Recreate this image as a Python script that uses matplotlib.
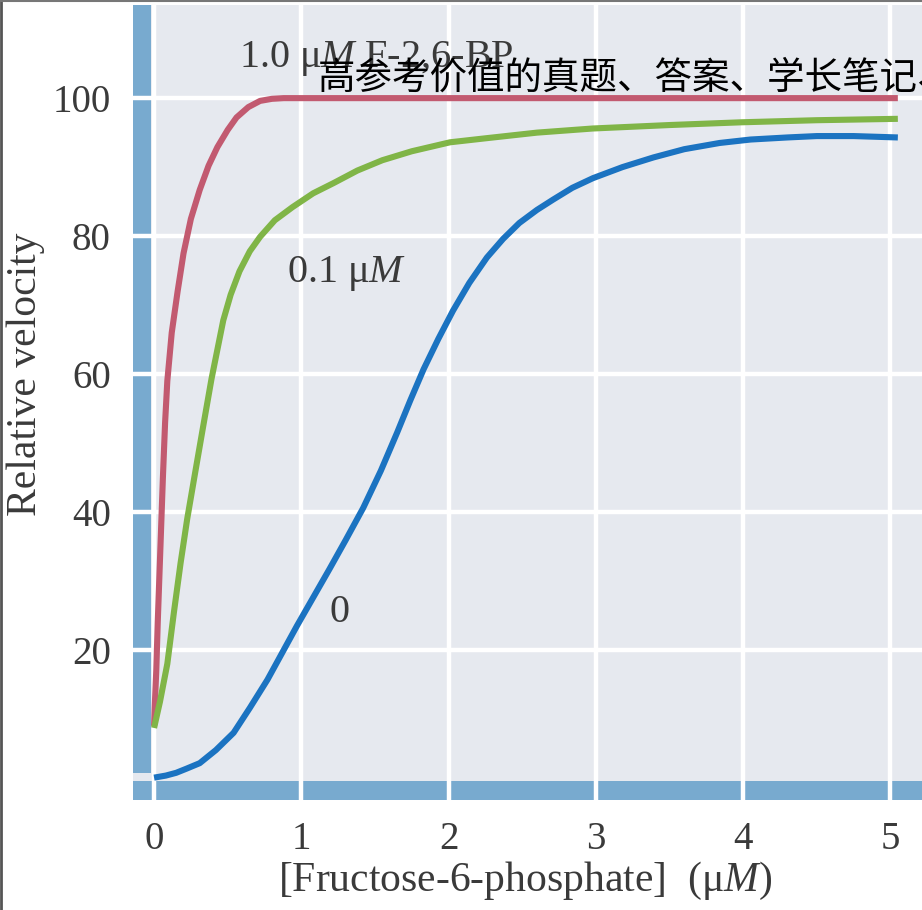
import numpy as np
import matplotlib
matplotlib.use("Agg")
import matplotlib.pyplot as plt
from matplotlib.patches import Rectangle
from matplotlib.lines import Line2D

# values
red_x = [0, 0.005, 0.015, 0.025, 0.035, 0.045, 0.06, 0.075, 0.09, 0.12, 0.16, 0.2, 0.25, 0.31,
         0.37, 0.43, 0.5, 0.56, 0.64, 0.72, 0.8, 0.88, 1.5, 2.5, 3.5, 4.5, 5.05]
red_y = [9, 12, 17, 24, 30, 36, 45, 53, 59, 66, 72, 77.5, 82.5, 86.7,
         90.2, 92.9, 95.4, 97.2, 98.7, 99.6, 99.9, 100, 100, 100, 100, 100, 100]

green_x = [0, 0.04, 0.09, 0.135, 0.18, 0.225, 0.27, 0.33, 0.39, 0.47, 0.52, 0.58, 0.65, 0.72,
           0.82, 0.94, 1.08, 1.22, 1.38, 1.55, 1.75, 2.01, 2.26, 2.6, 2.98, 3.5, 3.99, 4.5, 5.05]
green_y = [8.7, 12.5, 18, 25.5, 32.6, 39, 44.6, 52, 59.3, 67.8, 71.5, 74.9, 77.8, 79.9,
           82.3, 84.2, 86.2, 87.7, 89.5, 91.0, 92.3, 93.6, 94.2, 95.0, 95.6, 96.1, 96.5, 96.8, 97.0]

blue_x = [0, 0.08, 0.15, 0.22, 0.31, 0.42, 0.54, 0.65, 0.77, 0.87, 0.97, 1.08, 1.19, 1.3, 1.42,
          1.54, 1.65, 1.74, 1.83, 1.93, 2.03, 2.14, 2.26, 2.37, 2.48, 2.6, 2.71, 2.84, 2.98,
          3.18, 3.39, 3.6, 3.84, 4.05, 4.30, 4.5, 4.75, 5.05]
blue_y = [1.5, 1.8, 2.2, 2.8, 3.6, 5.5, 8.0, 11.6, 15.7, 19.6, 23.5, 27.6, 31.7, 35.9, 40.6,
          46.0, 51.5, 56.2, 60.7, 65.1, 69.2, 73.2, 76.9, 79.6, 81.9, 83.8, 85.3, 87.0, 88.4,
          90.0, 91.4, 92.6, 93.5, 94.0, 94.3, 94.5, 94.5, 94.3]

x_ticks = [0, 1, 2, 3, 4, 5]
y_ticks = [20, 40, 60, 80, 100]

curve_labels = ["1.0 \u03bc$M$ F-2,6-BP", "0.1 \u03bc$M$", "0"]
watermark = "高参考价值的真题、答案、学长笔记、"

plt.rcParams["font.family"] = ["Liberation Serif", "DejaVu Serif"]
plt.rcParams["mathtext.fontset"] = "custom"
plt.rcParams["mathtext.it"] = "Liberation Serif:italic"
plt.rcParams["mathtext.rm"] = "Liberation Serif"

text_col = "#3a3a3a"
band_col = "#78aacf"
bg_col = "#e6e9ef"

fig = plt.figure(figsize=(9.22, 9.10), dpi=100)
ax = fig.add_axes([133 / 922, 110 / 910, 789 / 922, 795 / 910])
ax.set_facecolor(bg_col)

x_lo, x_hi = -0.143, 5.214
y_lo, y_hi = -1.74, 113.5
ax.set_xlim(x_lo, x_hi)
ax.set_ylim(y_lo, y_hi)

for s in ax.spines.values():
    s.set_visible(False)

# blue axis bands
band_right = -0.02
ax.add_patch(Rectangle((x_lo, 2.2), band_right - x_lo, y_hi - 2.2,
                       color=band_col, zorder=1.5, lw=0))
ax.add_patch(Rectangle((x_lo, y_lo), x_hi - x_lo, 1.0 - y_lo,
                       color=band_col, zorder=1.5, lw=0))

# white grid, cutting through the bands
for xt in x_ticks:
    ax.axvline(xt, color="white", lw=3.2, zorder=2)
for yt in y_ticks:
    ax.axhline(yt, color="white", lw=3.2, zorder=2)

lw = 4.4
ax.plot(red_x, red_y, color="#c25a70", lw=lw, zorder=3, solid_capstyle="butt", solid_joinstyle="round")
ax.plot(green_x, green_y, color="#80b547", lw=lw, zorder=3, solid_capstyle="butt", solid_joinstyle="round")
ax.plot(blue_x, blue_y, color="#1b73c1", lw=lw, zorder=3, solid_capstyle="butt", solid_joinstyle="round")

ax.text(0.58, 105.8, curve_labels[0], fontsize=29, color=text_col, va="center", ha="left", zorder=4)
ax.text(0.90, 74.6, curve_labels[1], fontsize=29, color=text_col, va="center", ha="left", zorder=4)
ax.text(1.26, 25.5, curve_labels[2], fontsize=29, color=text_col, va="center", ha="center", zorder=4)

ax.set_xticks(x_ticks)
ax.set_xticklabels([str(t) for t in x_ticks])
ax.set_yticks(y_ticks)
ax.set_yticklabels([str(t) for t in y_ticks])
ax.tick_params(axis="both", length=0, labelsize=28, labelcolor=text_col)
ax.tick_params(axis="x", pad=15)
ax.tick_params(axis="y", pad=16)

ax.set_xlabel("[Fructose-6-phosphate]  (\u03bc$M$)", fontsize=30, color=text_col)
ax.xaxis.set_label_coords(0.497, -0.075)
ax.set_ylabel("Relative velocity", fontsize=30, color=text_col)
ax.yaxis.set_label_coords(-0.112, 0.535)

fig.text(318 / 922, 1 - 78 / 910, watermark, fontsize=27, color="black",
         family=["Noto Sans CJK SC", "DejaVu Sans"], ha="left", va="center")

# thin dark frame on the left and top edges of the scan
fig.add_artist(Line2D([0.0015, 0.0015], [0, 1], transform=fig.transFigure, color="#555555", lw=2))
fig.add_artist(Line2D([0, 1], [0.9985, 0.9985], transform=fig.transFigure, color="#777777", lw=1.5))

fig.savefig("out.png", dpi=100)
